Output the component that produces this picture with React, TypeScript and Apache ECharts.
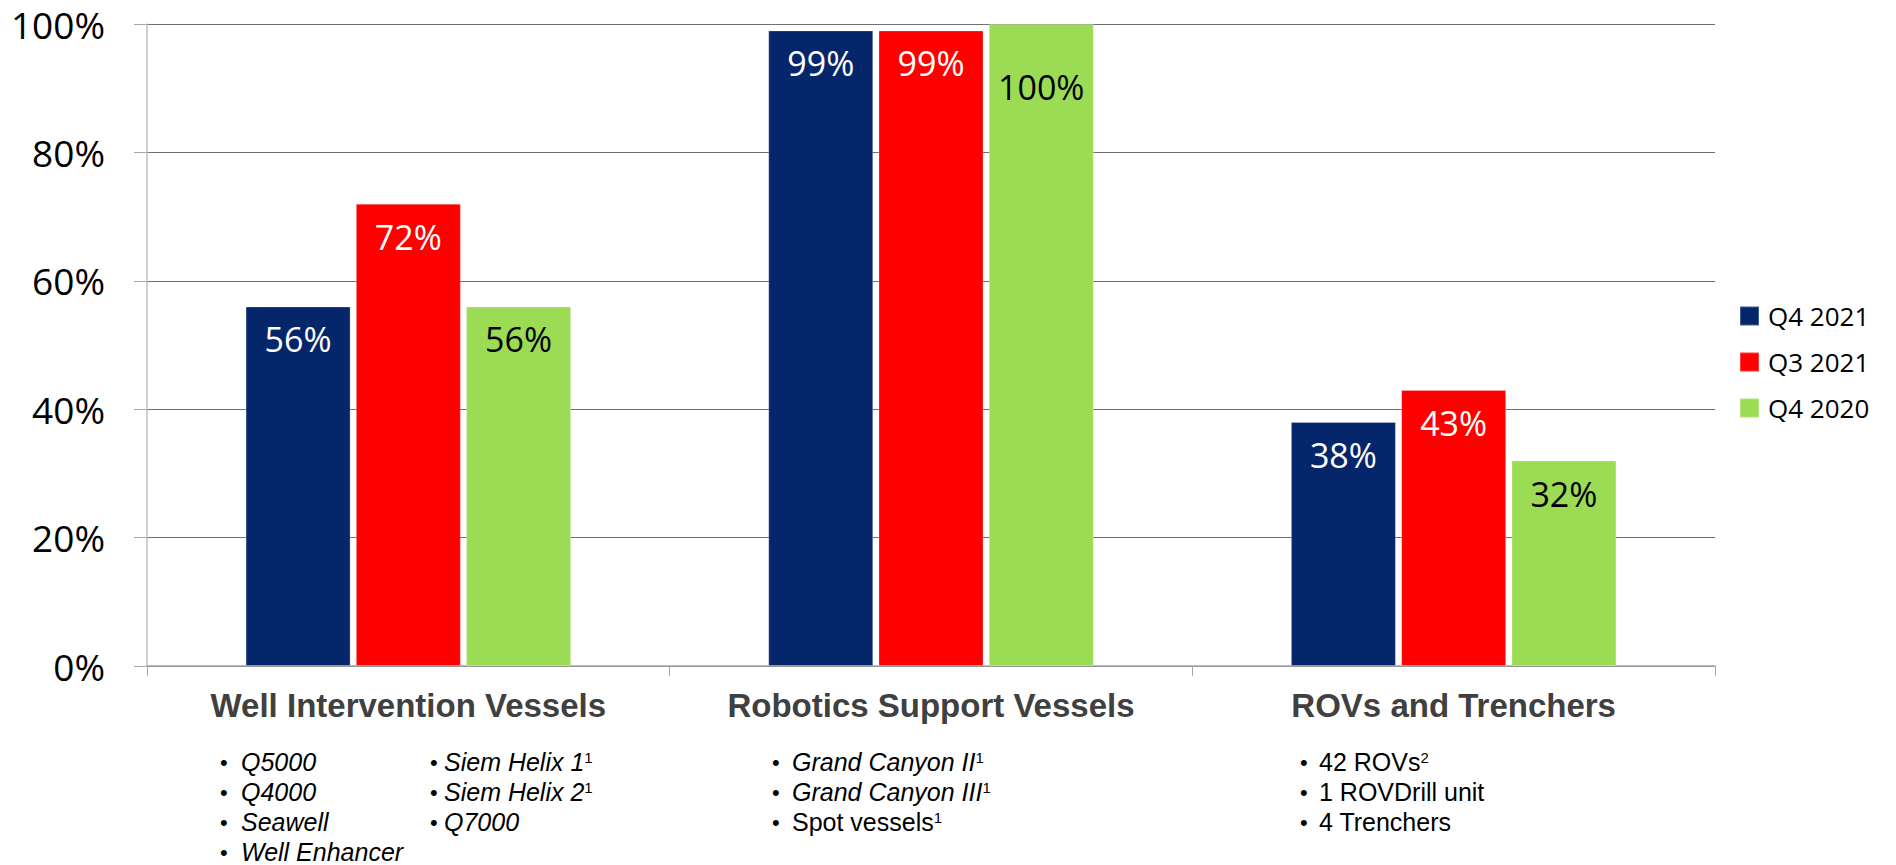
import React, { useEffect, useRef } from "react";
import * as echarts from "echarts";

const categories = ["Well Intervention Vessels", "Robotics Support Vessels", "ROVs and Trenchers"];
const seriesNames = ["Q4 2021", "Q3 2021", "Q4 2020"];
const q4_2021 = [56, 99, 38];
const q3_2021 = [72, 99, 43];
const q4_2020 = [56, 100, 32];
const yTicks = [0, 20, 40, 60, 80, 100];

// bullet lists under each category: [text, italic, superscript]
const wellListA: [string, boolean, string][] = [
  ["Q5000", true, ""],
  ["Q4000", true, ""],
  ["Seawell", true, ""],
  ["Well Enhancer", true, ""],
];
const wellListB: [string, boolean, string][] = [
  ["Siem Helix 1", true, "1"],
  ["Siem Helix 2", true, "1"],
  ["Q7000", true, ""],
];
const roboticsList: [string, boolean, string][] = [
  ["Grand Canyon II", true, "1"],
  ["Grand Canyon III", true, "1"],
  ["Spot vessels", false, "1"],
];
const rovList: [string, boolean, string][] = [
  ["42 ROVs", false, "2"],
  ["1 ROVDrill unit", false, ""],
  ["4 Trenchers", false, ""],
];

const colors = ["#05266A", "#FE0000", "#9CDC55"];
const labelColors = ["#FFFFFF", "#FFFFFF", "#000000"];

export default function App() {
  const ref = useRef<HTMLDivElement>(null);
  useEffect(() => {
    document.body.style.margin = "0";
    const chart = echarts.init(ref.current!, null, { renderer: "svg" });
    const values = [q4_2021, q3_2021, q4_2020];

    const rowY = [762, 792, 822, 852];
    const makeList = (list: [string, boolean, string][], bulletX: number, textX: number) => {
      const els: any[] = [];
      list.forEach((item, i) => {
        const [txt, italic, sup] = item;
        els.push({
          type: "text",
          x: bulletX,
          y: rowY[i],
          style: {
            text: "•",
            fill: "#000",
            fontFamily: "Liberation Sans",
            fontSize: 22,
            verticalAlign: "middle",
            align: "left",
          },
        });
        els.push({
          type: "text",
          x: textX,
          y: rowY[i],
          style: {
            text: sup ? `${txt}{sup|${sup}}` : txt,
            fill: "#000",
            fontFamily: "Liberation Sans",
            fontSize: 25,
            fontStyle: italic ? "italic" : "normal",
            verticalAlign: "middle",
            align: "left",
            rich: {
              sup: {
                fontFamily: "Liberation Sans",
                fontSize: 15,
                fontStyle: "normal",
                fill: "#000",
                verticalAlign: "top",
              },
            },
          },
        });
      });
      return els;
    };

    const graphics = [
      ...makeList(wellListA, 220, 241),
      ...makeList(wellListB, 430, 444),
      ...makeList(roboticsList, 772, 792),
      ...makeList(rovList, 1300, 1319),
    ];

    chart.setOption({
      animation: false,
      grid: { left: 147, right: 181, top: 24, bottom: 199, containLabel: false },
      legend: {
        orient: "vertical",
        left: 1739,
        top: 303,
        padding: 0,
        itemGap: 20,
        itemWidth: 19,
        itemHeight: 19,
        icon: "rect",
        data: seriesNames,
        textStyle: {
          fontFamily: "Open Sans",
          fontSize: 26,
          color: "#000",
          padding: [0, 0, 0, 4],
        },
      },
      xAxis: {
        type: "category",
        data: categories,
        axisLine: { show: true, lineStyle: { color: "#A6A6A6", width: 1.5 } },
        axisTick: { show: true, alignWithLabel: false, length: 10, lineStyle: { color: "#A6A6A6" } },
        axisLabel: {
          interval: 0,
          hideOverlap: false,
          margin: 23,
          fontFamily: "Liberation Sans",
          fontWeight: "bold",
          fontSize: 33,
          color: "#404040",
        },
      },
      yAxis: {
        type: "value",
        min: 0,
        max: 100,
        interval: 20,
        axisLine: { show: true, lineStyle: { color: "#BFBFBF", width: 1.5 } },
        axisTick: { show: true, length: 13, lineStyle: { color: "#A6A6A6" } },
        splitLine: { show: true, lineStyle: { color: "#707070", width: 1.2 } },
        axisLabel: {
          margin: 42,
          fontFamily: "Open Sans",
          fontSize: 37,
          color: "#000",
          formatter: (v: number) => (yTicks.includes(v) ? `${v}%` : ""),
        },
      },
      series: values.map((vals, si) => ({
        name: seriesNames[si],
        type: "bar",
        barWidth: 105,
        barGap: "5%",
        itemStyle: { color: colors[si], borderColor: "rgba(255,255,255,0.25)", borderWidth: 1 },
        label: {
          show: true,
          position: "insideTop",
          distance: 16,
          fontFamily: "Open Sans",
          fontSize: 34,
          color: labelColors[si],
          formatter: "{c}%",
        },
        data: vals.map((v) =>
          v >= 100 ? { value: v, label: { offset: [0, 30] } } : v
        ),
      })),
      graphic: graphics,
    });
    return () => chart.dispose();
  }, []);
  return <div ref={ref} style={{ width: 1896, height: 865 }} />;
}
